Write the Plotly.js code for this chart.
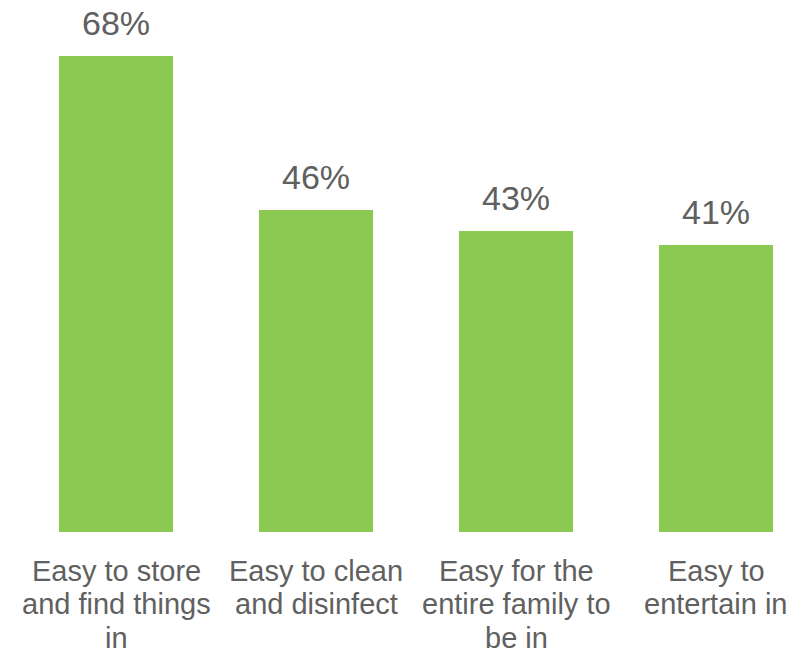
<!DOCTYPE html>
<html>
<head>
<meta charset="utf-8">
<script src="https://cdn.plot.ly/plotly-3.0.1.min.js"></script>
<style>html,body{margin:0;padding:0;background:#fff;}#chart{width:808px;height:652px;}</style>
</head>
<body>
<div id="chart"></div>
<script>
const categoryLines = [
  ["Easy to store", "and find things", "in"],
  ["Easy to clean", "and disinfect"],
  ["Easy for the", "entire family to", "be in"],
  ["Easy to", "entertain in"]
];
const categories = categoryLines.map(l => l.join(" "));
const values = [68, 46, 43, 41];
const valueLabels = values.map(v => v + "%");

const textColor = "#606060";
const fontFam = "Liberation Sans, Arial, sans-serif";

const trace = {
  type: "bar",
  x: categories,
  y: values,
  marker: {color: "#8BC953"},
  hoverinfo: "none"
};

const annotations = [];
categories.forEach((c, i) => {
  annotations.push({
    x: c, y: values[i], xref: "x", yref: "y",
    text: valueLabels[i], showarrow: false,
    yanchor: "middle", yshift: 33,
    font: {family: fontFam, size: 34, color: textColor}
  });
  categoryLines[i].forEach((line, k) => {
    annotations.push({
      x: c, y: 0, xref: "x", yref: "paper",
      text: line, showarrow: false, borderpad: 0,
      yanchor: "middle", yshift: -39 - k * 33.3,
      font: {family: fontFam, size: 29, color: textColor}
    });
  });
});

const layout = {
  width: 808, height: 652,
  margin: {l: 16, r: 0, t: 0, b: 120},
  paper_bgcolor: "#fff", plot_bgcolor: "#fff",
  bargap: 0.43,
  showlegend: false,
  xaxis: {
    range: [-0.5, 3.46],
    showgrid: false, zeroline: false, showline: false,
    ticks: "", showticklabels: false
  },
  yaxis: {
    range: [0, 76], visible: false, fixedrange: true
  },
  annotations: annotations
};

Plotly.newPlot("chart", [trace], layout, {displayModeBar: false, staticPlot: true});
</script>
</body>
</html>
